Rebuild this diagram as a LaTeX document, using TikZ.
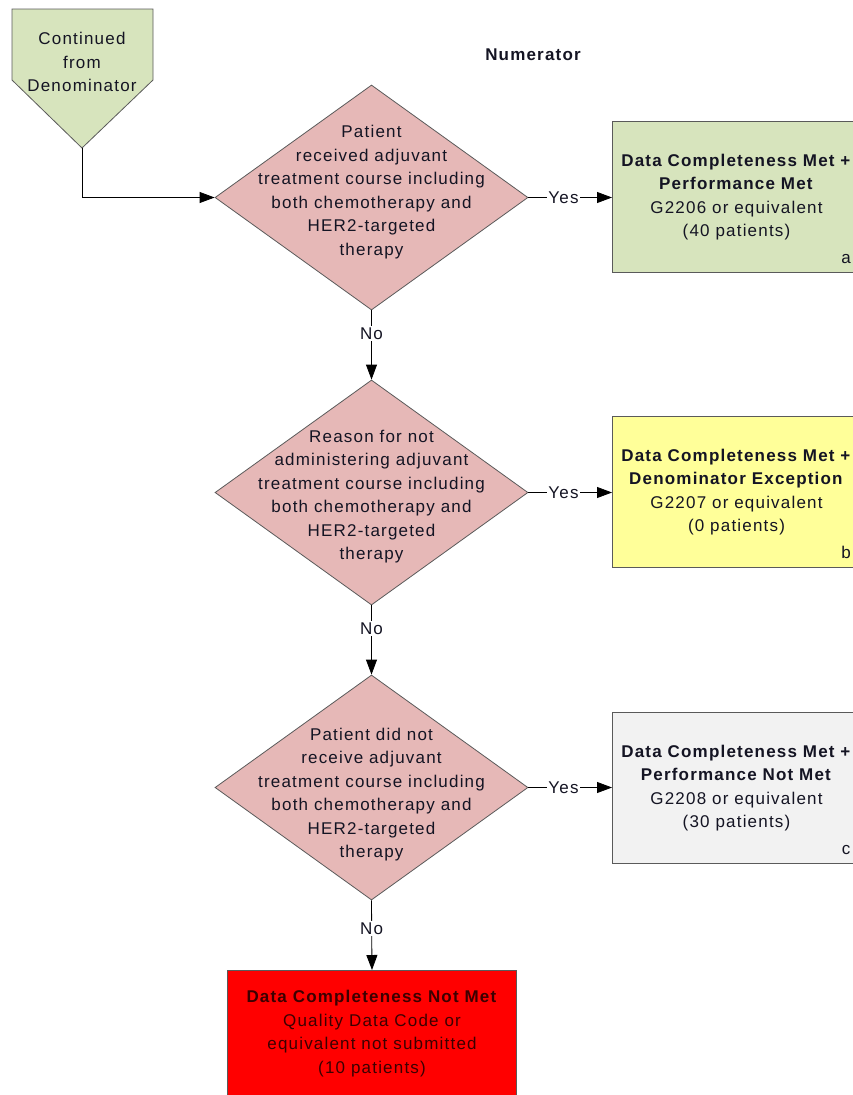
\documentclass[tikz,border=0pt]{standalone}
\usepackage{fontspec}
\setmainfont[LetterSpace=7]{Liberation Sans}
\usetikzlibrary{shapes.geometric,arrows.meta}
\definecolor{pinkfill}{RGB}{230,184,183}
\definecolor{greenfill}{RGB}{215,228,189}
\definecolor{yellowfill}{RGB}{255,255,153}
\definecolor{grayfill}{RGB}{242,242,242}
\definecolor{redfill}{RGB}{255,0,0}
\definecolor{borderc}{RGB}{90,90,90}
\definecolor{textc}{RGB}{20,20,35}
\definecolor{darkred}{RGB}{60,0,0}
\begin{document}
\begin{tikzpicture}[x=1pt,y=-1pt,
  dec/.style={diamond, draw=borderc, line width=0.8pt, fill=pinkfill, minimum width=313pt, minimum height=225pt, inner sep=0pt},
  txt/.style={align=center, font=\fontsize{17}{23.5}\selectfont, text=textc, inner sep=1pt},
  outbox/.style={draw=borderc, line width=1pt, anchor=north west, minimum width=248pt, minimum height=151pt, align=center, font=\fontsize{17}{23.5}\selectfont, text=textc},
  arr/.style={-{Triangle[length=15pt,width=11pt]}, draw=black, line width=0.8pt},
  lbl/.style={fill=white, font=\fontsize{17}{19}\selectfont, text=textc, inner sep=1.5pt}
]
\useasboundingbox (0,0) rectangle (853,1095);
\clip (0,0) rectangle (853,1095);

% off-page connector
\draw[draw=borderc, line width=0.8pt, fill=greenfill] (12,9) -- (153,9) -- (153,80) -- (82,148) -- (12,80) -- cycle;
\node[txt] (conn) at (82,62) {Continued\\from\\Denominator};
\coordinate (cp) at (82,148);

\node[font=\bfseries\fontsize{17}{19}\selectfont, text=textc] (num) at (533,55) {Numerator};

% decisions
\node[dec] (d1) at (371.5,197.5) {};
\node[txt] (t1) at (371.5,192) {Patient\\received adjuvant\\treatment course including\\both chemotherapy and\\HER2-targeted\\therapy};
\node[dec] (d2) at (371.5,492.5) {};
\node[txt] (t2) at (371.5,496.5) {Reason for not\\administering adjuvant\\treatment course including\\both chemotherapy and\\HER2-targeted\\therapy};
\node[dec] (d3) at (371.5,787.5) {};
\node[txt] (t3) at (371.5,794.5) {Patient did not\\receive adjuvant\\treatment course including\\both chemotherapy and\\HER2-targeted\\therapy};

% outcome boxes
\node[outbox, fill=greenfill] (ba) at (612,121) {\textbf{Data Completeness Met +}\\\textbf{Performance Met}\\G2206 or equivalent\\(40 patients)};
\node[outbox, fill=yellowfill] (bb) at (612,416) {\textbf{Data Completeness Met +}\\\textbf{Denominator Exception}\\G2207 or equivalent\\(0 patients)};
\node[outbox, fill=grayfill] (bc) at (612,712) {\textbf{Data Completeness Met +}\\\textbf{Performance Not Met}\\G2208 or equivalent\\(30 patients)};
\node[font=\fontsize{17}{19}\selectfont, text=textc, anchor=base] (la) at (846,263) {a};
\node[font=\fontsize{17}{19}\selectfont, text=textc, anchor=base] (lb) at (846,558) {b};
\node[font=\fontsize{17}{19}\selectfont, text=textc, anchor=base] (lc) at (846,854) {c};

\node[draw=borderc, line width=1pt, fill=redfill, anchor=north west, minimum width=289pt, minimum height=126pt, align=center, font=\fontsize{17}{23.5}\selectfont, text=darkred] (br) at (227,970) {\textbf{Data Completeness Not Met}\\Quality Data Code or\\equivalent not submitted\\(10 patients)};

% connectors
\draw[arr] (cp) |- (d1.west);
\draw[arr] (d1.east) -- node[lbl, pos=0.42] {Yes} (d1.east -| ba.west);
\draw[arr] (d2.east) -- node[lbl, pos=0.42] {Yes} (d2.east -| bb.west);
\draw[arr] (d3.east) -- node[lbl, pos=0.42] {Yes} (d3.east -| bc.west);
\draw[arr] (d1.south) -- node[lbl, pos=0.33] {No} (d2.north);
\draw[arr] (d2.south) -- node[lbl, pos=0.33] {No} (d3.north);
\draw[arr] (d3.south) -- node[lbl, pos=0.4] {No} (br.north);
\end{tikzpicture}
\end{document}
